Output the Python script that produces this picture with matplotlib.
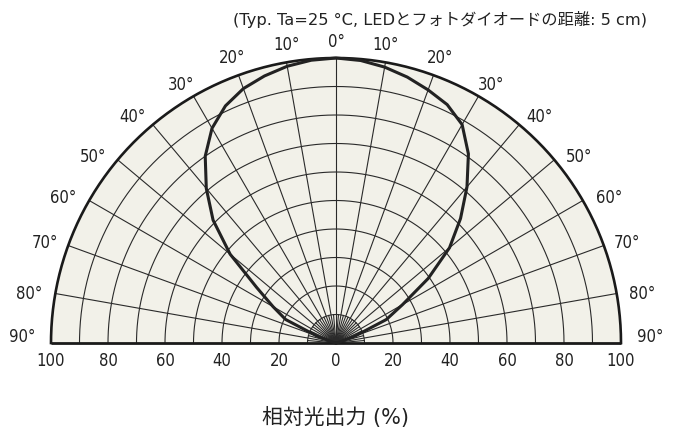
import numpy as np
import matplotlib
matplotlib.use("Agg")
import matplotlib.pyplot as plt
from matplotlib.patches import Wedge

plt.rcParams['font.family'] = ['DejaVu Sans', 'Noto Sans CJK JP']

# Data: relative output (%) vs angle (deg from axis)
angles = [0, 5, 10, 15, 20, 25, 30, 35, 40, 45, 50, 55, 60, 65, 70, 75, 80, 85, 90]
left_output = [100, 99.6, 98.6, 97, 95, 91.8, 87, 80, 70.8, 61, 48.5, 34, 25.5, 19.5, 7, 0.8, 0, 0, 0]
right_output = [100, 99.5, 98.3, 96.6, 94.5, 92.3, 88.5, 81, 71.5, 61.8, 52, 39.5, 27, 19.5, 7, 0.8, 0, 0, 0]

ring_values = [10, 20, 30, 40, 50, 60, 70, 80, 90, 100]
angle_labels = [0, 10, 20, 30, 40, 50, 60, 70, 80, 90]
x_ticks = [-100, -80, -60, -40, -20, 0, 20, 40, 60, 80, 100]

title_text = "(Typ. Ta=25 °C, LEDとフォトダイオードの距離: 5 cm)"
xlabel_text = "相対光出力 (%)"

# layout of the angle labels (angle shift in deg, radius in %)
label_shift = [0, -0.6, 0.0, 1.0, 2.0, 2.5, 2.0, 1.0, 1.0, -1.1]
label_radius = [105.6, 106.0, 106.4, 105.8, 106.8, 107.3, 108.5, 108.0, 108.9, 110.2]

W, H = 679, 433
cx, cy, scale = 336, 343, 2.85  # pixel centre and pixels per %

fig = plt.figure(figsize=(W / 100, H / 100), dpi=100)
ax = fig.add_axes([0, 0, 1, 1])
ax.set_xlim(-cx / scale, (W - cx) / scale)
ax.set_ylim(-(H - cy) / scale, cy / scale)
ax.set_aspect('equal')
ax.axis('off')

fill = '#F2F1E9'
grid_c = '#2a2a2a'
txt_c = '#222222'
fstretch = 'condensed'

ax.add_patch(Wedge((0, 0), 100, 0, 180, facecolor=fill, edgecolor='none', zorder=0))

# rings
for r in ring_values[:-1]:
    t = np.linspace(0, np.pi, 300)
    ax.plot(r * np.cos(t), r * np.sin(t), color=grid_c, lw=0.8, zorder=1)
t = np.linspace(0, np.pi, 400)
ax.plot(100 * np.cos(t), 100 * np.sin(t), color='#1a1a1a', lw=1.9, zorder=3)

# radial lines every 10 deg
for a in range(-80, 81, 10):
    th = np.deg2rad(a)
    ax.plot([0, 100 * np.sin(th)], [0, 100 * np.cos(th)], color=grid_c, lw=0.8, zorder=1)
# short 5 deg lines near the centre
for a in range(-85, 86, 10):
    th = np.deg2rad(a)
    ax.plot([0, 10 * np.sin(th)], [0, 10 * np.cos(th)], color=grid_c, lw=0.8, zorder=1)

# baseline
ax.plot([-100, 100], [0, 0], color='#1a1a1a', lw=2.0, zorder=3, solid_capstyle='butt')

# curve
th_l = -np.deg2rad(np.array(angles))[::-1]
r_l = np.array(left_output)[::-1]
th_r = np.deg2rad(np.array(angles))
r_r = np.array(right_output)
th_all = np.concatenate([th_l, th_r[1:]])
r_all = np.concatenate([r_l, r_r[1:]])
ax.plot(r_all * np.sin(th_all), r_all * np.cos(th_all), color='#222222', lw=2.2,
        zorder=4, solid_joinstyle='round')

# angle labels
for a, off, R in zip(angle_labels, label_shift, label_radius):
    for sgn in ([1] if a == 0 else [-1, 1]):
        th = np.deg2rad(sgn * (a + off))
        ax.text(R * np.sin(th), R * np.cos(th), f"{a}°", ha='center', va='center',
                fontsize=12, color=txt_c, fontstretch=fstretch)

# bottom tick labels
for v in x_ticks:
    ax.text(v, -6.4, f"{abs(v)}", ha='center', va='center', fontsize=12, color=txt_c,
            fontstretch=fstretch)

ax.text(0, -26, xlabel_text, ha='center', va='center', fontsize=15, color=txt_c)
ax.text((440 - cx) / scale, (cy - 19) / scale, title_text, ha='center', va='center',
        fontsize=11.7, color=txt_c)

fig.savefig('out.png', dpi=100)
